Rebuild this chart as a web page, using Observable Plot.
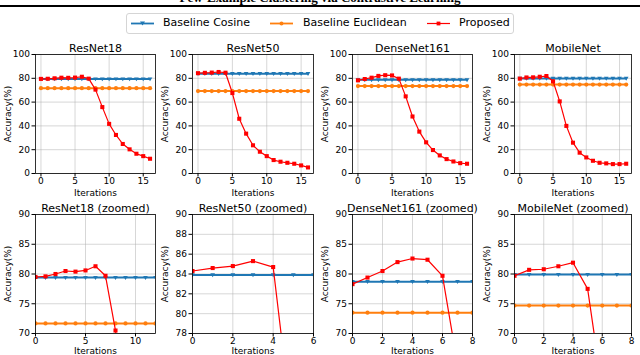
<!DOCTYPE html>
<html><head><meta charset="utf-8">
<script src="https://cdn.jsdelivr.net/npm/d3@7"></script>
<script src="https://cdn.jsdelivr.net/npm/@observablehq/plot@0.6"></script>
<style>
body{margin:0;background:#fff;}
#root{position:relative;width:640px;height:355px;overflow:hidden;font-family:"DejaVu Sans",sans-serif;background:#fff;}
.panel{position:absolute;}
#header{position:absolute;left:0;top:-9px;width:640px;text-align:center;font:bold 13px/13px "Liberation Serif",serif;color:#000;}
#rule{position:absolute;left:0;top:5px;width:640px;height:2px;background:#000;}
#legend{position:absolute;left:126px;top:13px;width:386px;height:19px;border:1px solid #d5d5d5;border-radius:3px;background:#fff;}
.lg-text{position:absolute;top:2px;font-size:11px;line-height:14px;font-family:"DejaVu Sans",sans-serif;color:#000;white-space:nowrap;}
</style></head><body><div id="root">
<div id="header">Few-Example Clustering via Contrastive Learning</div>
<div id="rule"></div>
<div id="legend"></div>
</div>
<script>
// ---------------- data ----------------
const iterations = [0,1,2,3,4,5,6,7,8,9,10,11,12,13,14,15,16];
const seriesNames = ["Baseline Cosine","Baseline Euclidean","Proposed"];
const modelNames = ["ResNet18","ResNet50","DenseNet161","MobileNet"];
const xLabel = "Iterations";
const yLabel = "Accuracy(%)";

const proposedResNet18 = [79.5,79.6,80.0,80.5,80.4,80.6,81.3,79.7,70.5,55.8,41.7,32.4,24.8,20.3,16.6,14.6,12.4];
const cosineResNet18   = [79.4,79.4,79.4,79.4,79.4,79.4,79.4,79.4,79.4,79.4,79.4,79.4,79.4,79.4,79.4,79.4,79.4];
const euclidResNet18   = [71.7,71.7,71.7,71.7,71.7,71.7,71.7,71.7,71.7,71.7,71.7,71.7,71.7,71.7,71.7,71.7,71.7];

const proposedResNet50 = [84.3,84.6,84.8,85.3,84.7,67.6,46.0,33.5,23.7,18.3,14.6,11.3,9.9,9.0,8.2,6.8,5.1];
const cosineResNet50   = [83.9,83.9,83.9,83.9,83.9,83.9,83.9,83.9,83.9,83.9,83.9,83.9,83.9,83.9,83.9,83.9,83.9];
const euclidResNet50   = [69.3,69.3,69.3,69.3,69.3,69.3,69.3,69.3,69.3,69.3,69.3,69.3,69.3,69.3,69.3,69.3,69.3];

const proposedDenseNet161 = [78.3,79.4,80.5,82.0,82.6,82.4,79.7,64.8,47.9,35.2,26.2,19.7,15.2,12.1,10.1,8.7,8.2];
const cosineDenseNet161   = [78.7,78.7,78.7,78.7,78.7,78.7,78.7,78.7,78.7,78.7,78.7,78.7,78.7,78.7,78.7,78.7,78.7];
const euclidDenseNet161   = [73.5,73.5,73.5,73.5,73.5,73.5,73.5,73.5,73.5,73.5,73.5,73.5,73.5,73.5,73.5,73.5,73.5];

const proposedMobileNet = [79.7,80.7,80.8,81.3,81.9,77.5,60.6,40.0,25.9,17.5,13.5,10.7,9.0,8.5,7.9,7.9,8.2];
const cosineMobileNet   = [79.9,79.9,79.9,79.9,79.9,79.9,79.9,79.9,79.9,79.9,79.9,79.9,79.9,79.9,79.9,79.9,79.9];
const euclidMobileNet   = [74.7,74.7,74.7,74.7,74.7,74.7,74.7,74.7,74.7,74.7,74.7,74.7,74.7,74.7,74.7,74.7,74.7];

const fullXTicks = [0,5,10,15];
const fullYTicks = [0,20,40,60,80,100];
const zoomXTicksResNet18 = [0,5,10];
const zoomXTicksResNet50 = [0,2,4,6];
const zoomXTicksOther = [0,2,4,6,8];
const zoomYTicks = [70,75,80,85,90];
const zoomYTicksResNet50 = [78,80,82,84,86,88,90];

// ---------------- layout ----------------
const colors = {cos:"#1f77b4", euc:"#ff7f0e", prop:"#ff0000"};
const triDown = {draw(ctx, size){ const h = Math.sqrt(size); ctx.moveTo(-h*0.6,-h*0.42); ctx.lineTo(h*0.6,-h*0.42); ctx.lineTo(0,h*0.6); ctx.closePath(); }};

const dataFor = {
  ResNet18:[proposedResNet18,cosineResNet18,euclidResNet18],
  ResNet50:[proposedResNet50,cosineResNet50,euclidResNet50],
  DenseNet161:[proposedDenseNet161,cosineDenseNet161,euclidDenseNet161],
  MobileNet:[proposedMobileNet,cosineMobileNet,euclidMobileNet]
};
const xs = {ResNet18:[35,155], ResNet50:[192,313], DenseNet161:[352,472], MobileNet:[514,631]};
const panels = [];
for (const m of modelNames) {
  panels.push({model:m, title:m, y0:54, y1:173, labelDy:20, xDomain:[-0.8,16.8], xTicks:fullXTicks, yDomain:[0,100], yTicks:fullYTicks, clip:false});
}
for (const m of modelNames) {
  panels.push({model:m, title:m+" (zoomed)", y0:214, y1:333, labelDy:18,
    xDomain: m==="ResNet18"?[0,12]:m==="ResNet50"?[0,6]:[0,8],
    xTicks: m==="ResNet18"?zoomXTicksResNet18:m==="ResNet50"?zoomXTicksResNet50:zoomXTicksOther,
    yDomain: m==="ResNet50"?[78,90]:[70,90],
    yTicks: m==="ResNet50"?zoomYTicksResNet50:zoomYTicks, clip:true});
}

const root = document.getElementById("root");
const mL=40, mR=10, mT=22, mB=22;
for (const p of panels) {
  const [x0,x1] = xs[p.model];
  const [prop,cos,euc] = dataFor[p.model];
  const rows = iterations.map((it,i)=>({it, prop:prop[i], cos:cos[i], euc:euc[i]}));
  const chart = Plot.plot({
    width: (x1-x0)+mL+mR, height: (p.y1-p.y0)+mT+mB,
    marginLeft:mL, marginRight:mR, marginTop:mT, marginBottom:mB,
    style:{fontFamily:"DejaVu Sans, sans-serif", fontSize:"9px", color:"#000", background:"transparent", overflow:"visible"},
    x:{domain:p.xDomain}, y:{domain:p.yDomain},
    marks:[
      Plot.gridX(p.xTicks,{stroke:"#b0b0b0", strokeOpacity:0.5, strokeWidth:1}),
      Plot.gridY(p.yTicks,{stroke:"#b0b0b0", strokeOpacity:0.5, strokeWidth:1}),
      Plot.lineY(rows,{x:"it", y:"cos", stroke:colors.cos, strokeWidth:2, clip:p.clip}),
      Plot.dot(rows,{x:"it", y:"cos", fill:colors.cos, symbol:triDown, r:2.2, clip:p.clip}),
      Plot.lineY(rows,{x:"it", y:"euc", stroke:colors.euc, strokeWidth:2, clip:p.clip}),
      Plot.dot(rows,{x:"it", y:"euc", fill:colors.euc, r:2.1, clip:p.clip}),
      Plot.lineY(rows,{x:"it", y:"prop", stroke:colors.prop, strokeWidth:1.2, clip:p.clip}),
      Plot.dot(rows,{x:"it", y:"prop", fill:colors.prop, symbol:"square", r:2.3, clip:p.clip}),
      Plot.frame({stroke:"#000", strokeWidth:0.8}),
      Plot.axisX(p.xTicks,{tickSize:3.5, tickPadding:1, fontSize:9, label:null, tickFormat:d=>String(d)}),
      Plot.axisY(p.yTicks,{tickSize:3.5, tickPadding:2, fontSize:9, label:null, tickFormat:d=>String(d)}),
      Plot.text([xLabel],{text:d=>d, frameAnchor:"bottom", lineAnchor:"middle", textAnchor:"middle", dy:p.labelDy, fontSize:9}),
      Plot.text([yLabel],{text:d=>d, frameAnchor:"left", lineAnchor:"middle", textAnchor:"middle", dx:-27, rotate:-90, fontSize:9}),
      Plot.text([p.title],{text:d=>d, frameAnchor:"top", lineAnchor:"bottom", dy:-3, fontSize:11})
    ]
  });
  chart.classList.add("panel");
  chart.style.left = (x0-mL)+"px";
  chart.style.top = (p.y0-mT)+"px";
  root.appendChild(chart);
}

// ---------------- legend ----------------
const legend = document.getElementById("legend");
const legendItems = [
  {name:seriesNames[0], color:colors.cos, sym:"tri", lx:4, tx:36, w:1.8},
  {name:seriesNames[1], color:colors.euc, sym:"circle", lx:143, tx:176, w:1.8},
  {name:seriesNames[2], color:colors.prop, sym:"square", lx:300, tx:332, w:1.2}
];
for (const it of legendItems) {
  const svg = d3.select(legend).append("svg").attr("width",24).attr("height",19)
    .style("position","absolute").style("left",it.lx+"px").style("top","0px");
  svg.append("line").attr("x1",0).attr("x2",23).attr("y1",9.5).attr("y2",9.5).attr("stroke",it.color).attr("stroke-width",it.w);
  if (it.sym==="tri") svg.append("path").attr("d","M9,7.5L14,7.5L11.5,11.5Z").attr("fill",it.color);
  if (it.sym==="circle") svg.append("circle").attr("cx",11.5).attr("cy",9.5).attr("r",2).attr("fill",it.color);
  if (it.sym==="square") svg.append("rect").attr("x",9.6).attr("y",7.6).attr("width",3.8).attr("height",3.8).attr("fill",it.color);
  const t = document.createElement("div");
  t.className="lg-text"; t.style.left=it.tx+"px"; t.textContent=it.name;
  legend.appendChild(t);
}
</script></body></html>
